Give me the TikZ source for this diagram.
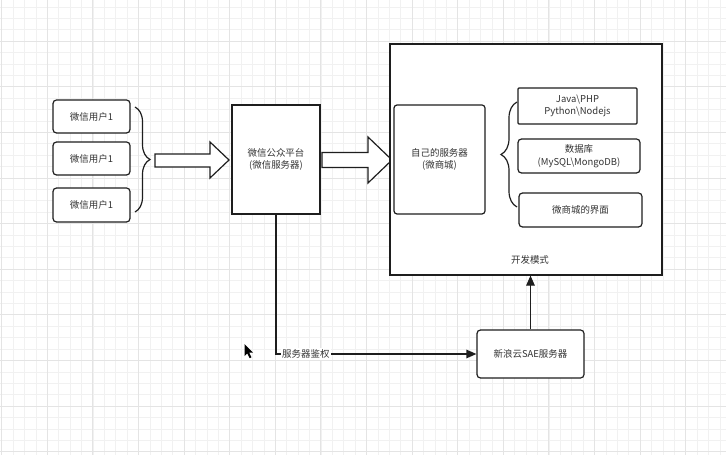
\documentclass[tikz,border=0pt]{standalone}
\usepackage{fontspec}
\setmainfont{Noto Sans CJK SC}
\usetikzlibrary{arrows.meta,decorations.pathreplacing}
\definecolor{gridminor}{HTML}{F1F1F1}
\definecolor{gridmajor}{HTML}{E4E4E4}
\definecolor{ink}{HTML}{1E1E1E}
\definecolor{txt}{HTML}{333333}
\tikzset{
  box/.style={draw=ink, line width=1.2bp, fill=white, inner sep=0pt, align=center,
    text=txt, font=\fontsize{9.5}{12.5}\selectfont},
  rbox/.style={box, rounded corners=3.5bp},
  conn/.style={draw=ink, line width=1.2bp},
  tip/.style={-{Triangle[length=10bp,width=8.5bp]}},
  bigarrow/.style={draw=ink, line width=1.2bp, fill=white},
  curly/.style={draw=ink, line width=1.2bp, decorate},
  lbl/.style={text=txt, font=\fontsize{9.5}{12.5}\selectfont, inner sep=1pt},
}
\begin{document}
\begin{tikzpicture}[x=1bp,y=-1bp]
\useasboundingbox (0,0) rectangle (726,455);
\fill[white] (0,0) rectangle (726,455);
% grid
\foreach \i in {0,...,63} {\draw[gridminor, line width=0.8bp] ({1.7+\i*11.4},0) -- ({1.7+\i*11.4},455);}
\foreach \j in {0,...,39} {\draw[gridminor, line width=0.8bp] (0,{7.1+\j*11.4}) -- (726,{7.1+\j*11.4});}
\foreach \i in {0,...,15} {\draw[gridmajor, line width=0.9bp] ({1.7+\i*45.6},0) -- ({1.7+\i*45.6},455);}
\foreach \j in {1,...,10} {\draw[gridmajor, line width=0.9bp] (0,{-4.3+\j*45.6}) -- (726,{-4.3+\j*45.6});}

% users
\node[rbox, minimum width=77bp, minimum height=33bp] (u1) at (91.5,116.5) {微信用户1};
\node[rbox, minimum width=77bp, minimum height=33bp] (u2) at (91.5,158.5) {微信用户1};
\node[rbox, minimum width=77bp, minimum height=34bp] (u3) at (91.5,205) {微信用户1};
\coordinate (b1t) at (135,107);
\coordinate (b1b) at (135,212);
\draw[curly, decoration={brace, amplitude=15bp, aspect=0.5}] (b1t) -- (b1b);

% big arrow 1
\draw[bigarrow] (155,154) -- (210,154) -- (210,142) -- (229,160) -- (210,178) -- (210,167) -- (155,167) -- cycle;

% wechat platform
\node[box, minimum width=88bp, minimum height=109bp] (wx) at (276,159.5) {微信公众平台\\(微信服务器)};

% big arrow 2
\draw[bigarrow] (322,152.5) -- (368,152.5) -- (368,137) -- (392,160) -- (368,183) -- (368,167.5) -- (322,167.5) -- cycle;

% outer dev box
\node[box, minimum width=272bp, minimum height=231bp] (dev) at (526,159.5) {};
\node[lbl] (devl) at (530,260) {开发模式};

\node[rbox, rounded corners=3bp, minimum width=91bp, minimum height=109bp] (own) at (439.5,159.5) {自己的服务器\\(微商城)};
\coordinate (b2b) at (517,207);
\coordinate (b2t) at (517,102);
\draw[curly, decoration={brace, amplitude=16bp, aspect=0.5}] (b2b) -- (b2t);
\node[box, rounded corners=1bp, minimum width=119bp, minimum height=36bp] (java) at (577.5,106) {Java\textbackslash PHP\\Python\textbackslash Nodejs};
\node[rbox, minimum width=122bp, minimum height=34bp] (db) at (579,156) {数据库\\(MySQL\textbackslash MongoDB)};
\node[rbox, minimum width=123bp, minimum height=34bp] (ui) at (580.5,210) {微商城的界面};

% SAE
\node[rbox, minimum width=107bp, minimum height=48bp] (sae) at (530.5,354) {新浪云SAE服务器};

% connectors
\coordinate (corner) at (276,354);
\draw[conn, tip] (wx.south) -- (corner) -- (sae.west);
\node[lbl, fill=white, anchor=west, inner sep=1.5pt] (authl) at (280.5,354) {服务器鉴权};
\draw[conn, tip] (sae.north) -- (sae.north |- dev.south);

% cursor
\fill[black] (244.5,344) -- (244.5,356) -- (247.3,353.4) -- (249.6,358.2) -- (251.4,357.3) -- (249.2,352.6) -- (253,352.6) -- cycle;
\end{tikzpicture}
\end{document}
